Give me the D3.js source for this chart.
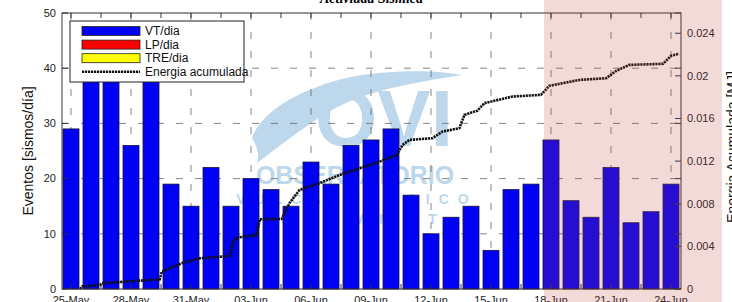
<!DOCTYPE html>
<html>
<head>
<meta charset="utf-8">
<script src="https://cdn.jsdelivr.net/npm/d3@7"></script>
<style>
  body { margin: 0; background: #fff; }
  svg { display: block; font-family: "Liberation Sans", Arial, sans-serif; }
</style>
</head>
<body>
<div id="chart"></div>
<script>
// daily counts
const dias = ['25-May', '26-May', '27-May', '28-May', '29-May', '30-May', '31-May',
    '01-Jun', '02-Jun', '03-Jun', '04-Jun', '05-Jun', '06-Jun', '07-Jun', '08-Jun', '09-Jun',
    '10-Jun', '11-Jun', '12-Jun', '13-Jun', '14-Jun', '15-Jun', '16-Jun', '17-Jun', '18-Jun',
    '19-Jun', '20-Jun', '21-Jun', '22-Jun', '23-Jun', '24-Jun'];
const vtDia = [29, 42, 44, 26, 40, 19, 15, 22, 15, 20, 18, 15, 23, 19, 26, 27, 29, 17, 10, 13, 15, 7, 18, 19, 27, 16, 13, 22, 12, 14, 19];
const lpDia = [0, 0, 0, 0, 0, 0, 0, 0, 0, 0, 0, 0, 0, 0, 0, 0, 0, 0, 0, 0, 0, 0, 0, 0, 0, 0, 0, 0, 0, 0, 0];
const treDia = [0, 0, 0, 0, 0, 0, 0, 0, 0, 0, 0, 0, 0, 0, 0, 0, 0, 0, 0, 0, 0, 0, 0, 0, 0, 0, 0, 0, 0, 0, 0];

// cumulative energy (days since 25-May, MJ)
const energiaT = [0.45, 0.55, 1.45, 1.55, 4.44, 4.54, 4.94, 5.53, 6.44, 7.94, 8.14, 8.44, 9.27, 9.44, 10.53, 10.93,
    11.43, 12.43, 13.43, 14.43, 15.43, 16.28, 16.58, 16.92, 18.07, 18.57, 19.42, 19.67, 20.32, 20.67, 22.07,
    23.5, 23.91, 25.41, 26.76, 27.26, 27.91, 29.6, 30.0, 30.4];
const energiaMJ = [0, 0.00023, 0.00038, 0.00054, 0.00091, 0.00162, 0.00197, 0.00241, 0.00288, 0.0031, 0.0046, 0.00485,
    0.00507, 0.00654, 0.00657, 0.00808, 0.0093, 0.00993, 0.0107, 0.01133, 0.01195, 0.01258, 0.01352, 0.01399,
    0.01415, 0.01477, 0.01509, 0.01634, 0.01674, 0.01744, 0.01806, 0.01822, 0.01906, 0.01962, 0.01978, 0.02047,
    0.02103, 0.02113, 0.02188, 0.02207];

const xTickLabels = ['25-May', '28-May', '31-May', '03-Jun', '06-Jun', '09-Jun', '12-Jun', '15-Jun', '18-Jun', '21-Jun', '24-Jun'];
const yTicks = [0, 10, 20, 30, 40, 50];
const y2Ticks = [0, 0.004, 0.008, 0.012, 0.016, 0.02, 0.024];
const inicioSombra = '18-Jun';

const W = 732, H = 302;
const margin = { top: 13, right: 51, bottom: 13, left: 62 };
const width = W - margin.left - margin.right,
    height = H - margin.top - margin.bottom;

const svg = d3.select('#chart').append('svg').attr('width', W).attr('height', H);
const g = svg.append('g').attr('transform', `translate(${margin.left},${margin.top})`);

const x = d3.scaleLinear().domain([-0.45, 30.5]).range([0, width]);
const y = d3.scaleLinear().domain([0, 50]).range([height, 0]);
const y2 = d3.scaleLinear().domain([0, 0.0259]).range([height, 0]);
const bw = x(0.8) - x(0);

// watermark
const wm = g.append('g').attr('fill', '#a8cbe6').attr('opacity', 0.75);
wm.append('path')
    .attr('d', 'M190,125 C200,95 250,70 300,62 C340,56 380,58 400,62 C350,70 300,78 265,100 C240,115 215,135 195,150 C198,140 194,132 190,125 Z');
wm.append('text').attr('x', 322).attr('y', 133).attr('text-anchor', 'middle')
    .style('font-size', '80px').style('font-weight', 'bold').text('OVI');
wm.append('text').attr('x', 293).attr('y', 171).attr('text-anchor', 'middle')
    .style('font-size', '25px').style('font-weight', 'bold').text('OBSERVATORIO');
wm.append('text').attr('x', 295).attr('y', 191).attr('text-anchor', 'middle')
    .style('font-size', '14px').style('font-weight', 'bold').style('letter-spacing', '9px').text('VULCANOLOGICO');
wm.append('text').attr('x', 295).attr('y', 211).attr('text-anchor', 'middle')
    .style('font-size', '14px').style('font-weight', 'bold').style('letter-spacing', '14px').text('INGEMMET');

// grid
const grid = g.append('g').attr('stroke', '#666').attr('stroke-width', 0.8).attr('stroke-dasharray', '7,12');
grid.selectAll('.gx').data(xTickLabels).enter().append('line')
    .attr('x1', (d) => x(dias.indexOf(d))).attr('x2', (d) => x(dias.indexOf(d)))
    .attr('y1', 0).attr('y2', height);
grid.selectAll('.gy').data(yTicks.slice(1, -1)).enter().append('line')
    .attr('x1', 0).attr('x2', width).attr('y1', (d) => y(d)).attr('y2', (d) => y(d));

// bars
g.selectAll('.bar').data(vtDia).enter().append('rect')
    .attr('x', (d, i) => x(i) - bw / 2)
    .attr('y', (d) => y(d))
    .attr('width', bw)
    .attr('height', (d) => height - y(d))
    .attr('fill', '#0000f5')
    .attr('stroke', '#14143c')
    .attr('stroke-width', 0.8);
g.selectAll('.barlp').data(lpDia).enter().append('rect')
    .attr('x', (d, i) => x(i) - bw / 2)
    .attr('y', (d, i) => y(vtDia[i] + d))
    .attr('width', bw)
    .attr('height', (d) => y(0) - y(d))
    .attr('fill', '#f00');
g.selectAll('.bartre').data(treDia).enter().append('rect')
    .attr('x', (d, i) => x(i) - bw / 2)
    .attr('y', (d, i) => y(vtDia[i] + lpDia[i] + d))
    .attr('width', bw)
    .attr('height', (d) => y(0) - y(d))
    .attr('fill', '#ff0');

// energy line
const energia = energiaT.map((t, i) => ({ t: t, e: energiaMJ[i] }));
const line = d3.line().x((d) => x(d.t)).y((d) => y2(d.e));
g.append('path').datum(energia)
    .attr('fill', 'none').attr('stroke', '#111').attr('stroke-width', 2.6)
    .attr('stroke-dasharray', '2.2,0.8').attr('d', line);

// axes box and ticks
g.append('rect').attr('width', width).attr('height', height)
    .attr('fill', 'none').attr('stroke', '#333').attr('stroke-width', 1);

const minorX = d3.range(0, 30.01, 1.5);
const tk = g.append('g').attr('stroke', '#333').attr('stroke-width', 1);
tk.selectAll('.tt').data(minorX).enter().append('line')
    .attr('x1', (d) => x(d)).attr('x2', (d) => x(d)).attr('y1', 0).attr('y2', 5);
tk.selectAll('.tb').data(minorX).enter().append('line')
    .attr('x1', (d) => x(d)).attr('x2', (d) => x(d)).attr('y1', height).attr('y2', height - 5);
tk.selectAll('.tl').data(yTicks).enter().append('line')
    .attr('x1', 0).attr('x2', 6).attr('y1', (d) => y(d)).attr('y2', (d) => y(d));
tk.selectAll('.tr').data(yTicks).enter().append('line')
    .attr('x1', width).attr('x2', width - 6).attr('y1', (d) => y(d)).attr('y2', (d) => y(d));
tk.selectAll('.tr2').data(y2Ticks).enter().append('line')
    .attr('x1', width).attr('x2', width - 6).attr('y1', (d) => y2(d)).attr('y2', (d) => y2(d));

// tick labels
const lab = g.append('g').attr('fill', '#222').style('font-size', '11px');
lab.selectAll('.lx').data(xTickLabels).enter().append('text')
    .attr('x', (d) => x(dias.indexOf(d))).attr('y', height + 15)
    .attr('text-anchor', 'middle').text((d) => d);
lab.selectAll('.ly').data(yTicks).enter().append('text')
    .attr('x', -6).attr('y', (d) => y(d)).attr('dy', '0.35em')
    .attr('text-anchor', 'end').text((d) => d);
lab.selectAll('.ly2').data(y2Ticks).enter().append('text')
    .attr('x', width + 6).attr('y', (d) => y2(d)).attr('dy', '0.35em')
    .text((d) => (d === 0 ? '0' : String(+d.toFixed(3))));

// axis titles
svg.append('text').attr('transform', `translate(33,${margin.top + height / 2}) rotate(-90)`)
    .attr('text-anchor', 'middle').style('font-size', '14px').attr('fill', '#111')
    .text('Eventos [sismos/día]');
svg.append('text').attr('transform', `translate(737,${margin.top + height / 2 - 4}) rotate(-90)`)
    .attr('text-anchor', 'middle').style('font-size', '14px').attr('fill', '#111')
    .text('Energia Acumulada [MJ]');
svg.append('text').attr('x', margin.left + width / 2).attr('y', 3)
    .attr('text-anchor', 'middle').style('font-family', '"Liberation Serif", serif')
    .style('font-style', 'italic').style('font-weight', 'bold').style('font-size', '14px')
    .text('Actividad Sísmica');

// legend
const leg = g.append('g').attr('transform', 'translate(8,8)');
leg.append('rect').attr('width', 174).attr('height', 61).attr('fill', '#fff').attr('stroke', '#222');
const items = [
    { name: 'VT/dia', color: '#0000f5' },
    { name: 'LP/dia', color: '#f00' },
    { name: 'TRE/dia', color: '#ff0' },
    { name: 'Energia acumulada', color: null }
];
items.forEach((it, i) => {
    const cy = 10 + i * 13.6;
    if (it.color) {
        leg.append('rect').attr('x', 12).attr('y', cy - 4.5).attr('width', 58).attr('height', 9)
            .attr('fill', it.color).attr('stroke', '#222').attr('stroke-width', 0.8);
    } else {
        leg.append('line').attr('x1', 12).attr('x2', 70).attr('y1', cy).attr('y2', cy)
            .attr('stroke', '#111').attr('stroke-width', 2.4).attr('stroke-dasharray', '2.2,0.8');
    }
    leg.append('text').attr('x', 75).attr('y', cy).attr('dy', '0.35em')
        .style('font-size', '12px').attr('fill', '#111').text(it.name);
});

// shaded period
const xs = margin.left + x(dias.indexOf(inicioSombra) - 0.35);
svg.append('rect').attr('x', xs).attr('y', 0).attr('width', 722 - xs).attr('height', H)
    .attr('fill', 'rgb(190,70,60)').attr('opacity', 0.2);
</script>
</body>
</html>
